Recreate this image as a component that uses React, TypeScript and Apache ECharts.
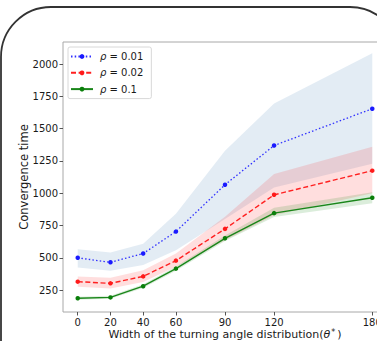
import React, { useEffect, useRef } from "react";
import * as echarts from "echarts";

const xs = [0, 20, 40, 60, 90, 120, 180];
const yTicks = [250, 500, 750, 1000, 1250, 1500, 1750, 2000];

const rho001 = [500, 465, 533, 703, 1066, 1370, 1655];
const rho001Lo = [425, 399, 445, 559, 800, 1045, 1228];
const rho001Hi = [566, 541, 608, 842, 1330, 1695, 2085];

const rho002 = [315, 302, 356, 478, 724, 988, 1175];
const rho002Lo = [276, 262, 312, 430, 635, 830, 1000];
const rho002Hi = [356, 346, 404, 533, 818, 1150, 1361];

const rho01 = [186, 193, 280, 416, 651, 846, 965];
const rho01Lo = [175, 182, 266, 400, 630, 816, 922];
const rho01Hi = [198, 205, 295, 433, 673, 888, 1008];

const names = ["ρ = 0.01", "ρ = 0.02", "ρ = 0.1"];

const FONT = "DejaVu Sans";

function pairs(vals: number[]) {
  return xs.map((x, i) => [x, vals[i]]);
}

function band(id: string, lo: number[], hi: number[], color: string) {
  const rows = xs.map((x, i) => [x, lo[i], hi[i]]);
  return {
    name: id + "-band",
    type: "custom",
    data: rows,
    encode: { x: 0, y: [1, 2] },
    silent: true,
    z: 1,
    renderItem: (params: any, api: any) => {
      if (params.dataIndex !== 0) return null;
      const top = rows.map((r) => api.coord([r[0], r[2]]));
      const bottom = rows.map((r) => api.coord([r[0], r[1]])).reverse();
      return {
        type: "polygon",
        shape: { points: top.concat(bottom) },
        style: { fill: color },
      };
    },
  };
}

export default function App() {
  const ref = useRef<HTMLDivElement>(null);
  useEffect(() => {
    if (!ref.current) return;
    const chart = echarts.init(ref.current, null, { renderer: "svg" });
    chart.setOption({
      animation: false,
      textStyle: { fontFamily: FONT },
      grid: {
        left: 63,
        top: 42,
        width: 324,
        height: 270,
        show: true,
        borderColor: "#a8a8a8",
        borderWidth: 1,
        outerBoundsMode: "none",
        containLabel: false,
      },
      legend: {
        data: names,
        orient: "vertical",
        left: 68,
        top: 47,
        itemWidth: 22,
        itemHeight: 6,
        itemGap: 4.3,
        padding: [3.5, 8, 3.5, 2],
        backgroundColor: "rgba(255,255,255,0.85)",
        borderColor: "#d8d8d8",
        borderWidth: 1,
        borderRadius: 2,
        formatter: (n: string) => "{i|ρ}{n|" + n.slice(1) + "}",
        textStyle: {
          fontFamily: FONT,
          fontSize: 10,
          color: "#1a1a1a",
          lineHeight: 12,
          rich: {
            i: { fontFamily: FONT, fontStyle: "italic", fontSize: 10, color: "#1a1a1a", padding: [0, 0, 0, 2] },
            n: { fontFamily: FONT, fontSize: 10, color: "#1a1a1a" },
          },
        },
      },
      xAxis: {
        type: "value",
        min: -9,
        max: 189,
        axisLine: { show: false, onZero: false },
        splitLine: { show: false },
        axisTick: { show: true, length: 3.5, lineStyle: { color: "#555" }, customValues: xs },
        axisLabel: {
          customValues: xs,
          fontSize: 10,
          color: "#1a1a1a",
          margin: 5,
          fontFamily: FONT,
          formatter: (v: number) => String(v),
        },
        name: "Width of the turning angle distribution({i|θ}{sup|*})",
        nameLocation: "middle",
        nameGap: 16,
        nameMoveOverlap: false,
        nameTextStyle: {
          fontSize: 11,
          color: "#1a1a1a",
          fontFamily: FONT,
          verticalAlign: "top",
          lineHeight: 12,
          rich: {
            i: { fontSize: 11, fontStyle: "italic", color: "#1a1a1a", fontFamily: FONT, lineHeight: 12 },
            sup: { fontSize: 8, color: "#1a1a1a", fontFamily: FONT, verticalAlign: "top", lineHeight: 8, padding: [0, 2, 0, 1] },
          },
        },
      },
      yAxis: {
        type: "value",
        min: 80,
        max: 2172,
        axisLine: { show: false, onZero: false },
        splitLine: { show: false },
        axisTick: { show: true, length: 3.5, lineStyle: { color: "#555" }, customValues: yTicks },
        axisLabel: {
          customValues: yTicks,
          fontSize: 10,
          color: "#1a1a1a",
          margin: 5,
          fontFamily: FONT,
          formatter: (v: number) => String(v),
        },
        name: "Convergence time",
        nameLocation: "middle",
        nameGap: 33,
        nameMoveOverlap: false,
        nameTextStyle: { fontSize: 11.5, color: "#1a1a1a", fontFamily: FONT },
      },
      series: [
        band("b", rho001Lo, rho001Hi, "rgba(70,130,180,0.15)"),
        band("r", rho002Lo, rho002Hi, "rgba(255,0,0,0.13)"),
        band("g", rho01Lo, rho01Hi, "rgba(0,128,0,0.14)"),
        {
          name: names[0],
          type: "line",
          data: pairs(rho001),
          symbol: "circle",
          symbolSize: 4.5,
          itemStyle: { color: "#1a1aff" },
          lineStyle: { color: "#3030ff", width: 1.3, type: [1.5, 2.2] },
          z: 3,
        },
        {
          name: names[1],
          type: "line",
          data: pairs(rho002),
          symbol: "circle",
          symbolSize: 4.5,
          itemStyle: { color: "#ff1a1a" },
          lineStyle: { color: "#ff2020", width: 1.4, type: [5, 2.6] },
          z: 3,
        },
        {
          name: names[2],
          type: "line",
          data: pairs(rho01),
          symbol: "circle",
          symbolSize: 4.5,
          itemStyle: { color: "#0a7f0a" },
          lineStyle: { color: "#1a861a", width: 1.4 },
          z: 3,
        },
      ],
      graphic: [
        {
          type: "rect",
          shape: { x: 1, y: 7, width: 399, height: 420, r: 50 },
          style: { fill: "none", stroke: "#333", lineWidth: 1.8 },
          z: 100,
          silent: true,
        },
      ],
    });
    return () => chart.dispose();
  }, []);
  return (
    <div
      ref={ref}
      style={{ position: "fixed", left: 0, top: 0, width: 377, height: 341, background: "#fff" }}
    />
  );
}
